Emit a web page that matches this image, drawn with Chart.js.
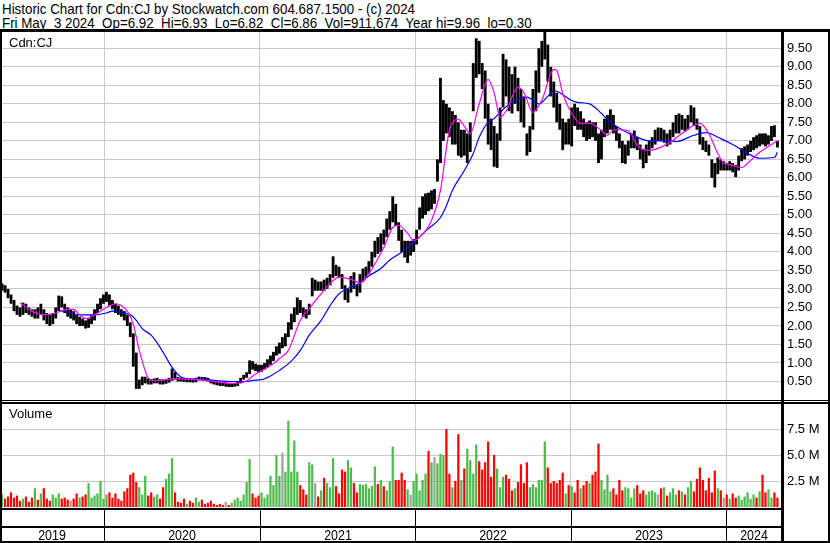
<!DOCTYPE html>
<html>
<head>
<meta charset="utf-8">
<title>Historic Chart Cdn:CJ</title>
<script src="https://cdn.jsdelivr.net/npm/chart.js"></script>
<style>
  body { margin: 0; background: #fff; }
  #page { position: relative; width: 830px; height: 543px; overflow: hidden; font-family: "Liberation Sans", Arial, sans-serif; color: #000; }
  .hdr { position: absolute; left: 2px; font-size: 15px; line-height: 15px; white-space: pre; transform-origin: 0 0; }
  .ln { position: absolute; background: #000; }
  .lbl { position: absolute; font-size: 13px; line-height: 13px; white-space: pre; }
  .yr { position: absolute; top: 528px; width: 60px; font-size: 15px; line-height: 13px; text-align: center; transform: scaleX(0.83); }
  canvas { position: absolute; left: 0; }
</style>
</head>
<body>
<div id="page">
  <div class="hdr" id="h1" style="top:1px">Historic Chart for Cdn:CJ by Stockwatch.com 604.687.1500 - (c) 2024</div>
  <div class="hdr" id="h2" style="top:15px">Fri May  3 2024  Op=6.92  Hi=6.93  Lo=6.82  Cl=6.86  Vol=911,674  Year hi=9.96  lo=0.30</div>
  <canvas id="price" width="830" height="368" style="top:32px"></canvas>
  <canvas id="vol" width="830" height="104" style="top:403px"></canvas>
  <div class="lbl" style="left:9px; top:36px">Cdn:CJ</div>
  <div class="lbl" style="left:9px; top:407px">Volume</div>
  <div class="ln" style="left:0; top:29px; width:830px; height:3px"></div>
  <div class="ln" style="left:0; top:29px; width:2px; height:514px"></div>
  <div class="ln" style="left:828px; top:29px; width:2px; height:514px"></div>
  <div class="ln" style="left:781px; top:32px; width:3px; height:511px"></div>
  <div class="ln" style="left:0; top:400px; width:830px; height:1px"></div>
  <div class="ln" style="left:0; top:402px; width:830px; height:2px"></div>
  <div class="ln" style="left:0; top:508px; width:783px; height:2px"></div>
  <div class="ln" style="left:0; top:526px; width:783px; height:2px"></div>
  <div class="ln" style="left:0; top:541px; width:830px; height:2px"></div>
  <div id="band"></div>
</div>
<script>
// weekly bars, first week starts early May 2019
const startYear = 2019.345;
const weekLen = 7 / 365.25;

const yearTicks = [2020, 2021, 2022, 2023, 2024];
const yearLabels = ['2019', '2020', '2021', '2022', '2023', '2024'];
const priceTicks = [0.5, 1.0, 1.5, 2.0, 2.5, 3.0, 3.5, 4.0, 4.5, 5.0, 5.5, 6.0, 6.5, 7.0, 7.5, 8.0, 8.5, 9.0, 9.5];
const volTicks = [2.5, 5.0, 7.5];

const lo = [
  2.95, 2.9, 2.75, 2.6, 2.4, 2.3, 2.25, 2.3, 2.35, 2.3,
  2.25, 2.2, 2.2, 2.3, 2.15, 2.05, 2.0, 2.05, 2.2, 2.4,
  2.5, 2.35, 2.25, 2.2, 2.15, 2.05, 2.0, 2.0, 1.93, 1.95,
  2.05, 2.15, 2.35, 2.45, 2.6, 2.65, 2.55, 2.45, 2.35, 2.3,
  2.25, 2.15, 2.0, 1.7, 0.9, 0.3, 0.3, 0.4, 0.45, 0.42,
  0.42, 0.45, 0.45, 0.42, 0.42, 0.44, 0.47, 0.52, 0.55, 0.5,
  0.5, 0.49, 0.48, 0.48, 0.47, 0.48, 0.53, 0.53, 0.52, 0.5,
  0.45, 0.42, 0.4, 0.38, 0.38, 0.36, 0.35, 0.35, 0.36, 0.38,
  0.45, 0.55, 0.6, 0.7, 0.82, 0.78, 0.75, 0.76, 0.82, 0.88,
  0.95, 1.05, 1.2, 1.25, 1.4, 1.45, 1.7, 1.9, 2.1, 2.3,
  2.35, 2.25, 2.2, 2.3, 2.8, 2.95, 2.95, 2.95, 2.95, 3.0,
  3.1, 3.3, 3.35, 3.3, 3.0, 2.7, 2.63, 2.9, 3.0, 2.8,
  2.9, 3.2, 3.3, 3.4, 3.6, 3.85, 3.95, 4.0, 4.2, 4.4,
  4.6, 4.8, 4.7, 4.3, 4.0, 3.85, 3.7, 3.9, 4.0, 4.2,
  4.6, 4.9, 5.0, 5.1, 5.15, 5.3, 5.9, 6.4, 7.0, 7.2,
  7.1, 6.9, 6.9, 6.6, 6.55, 6.6, 6.4, 6.7, 7.8, 8.7,
  8.8, 8.4, 7.6, 6.9, 6.75, 6.3, 6.27, 7.0, 7.9, 8.2,
  7.8, 7.74, 8.0, 7.8, 7.5, 7.36, 6.6, 6.7, 7.3, 7.8,
  8.3, 9.0, 9.2, 8.6, 8.2, 7.9, 7.5, 7.3, 6.75, 6.9,
  6.9, 6.85, 7.4, 7.3, 7.3, 7.1, 7.0, 7.05, 7.1, 7.0,
  6.4, 6.5, 7.1, 7.2, 7.3, 7.2, 7.0, 6.8, 6.4, 6.38,
  6.6, 6.8, 6.8, 6.75, 6.5, 6.26, 6.4, 6.6, 6.8, 6.9,
  7.0, 7.0, 6.95, 6.85, 6.9, 7.1, 7.2, 7.2, 7.3, 7.25,
  7.3, 7.5, 7.4, 7.3, 6.9, 6.75, 6.7, 6.6, 6.0, 5.74,
  6.1, 6.2, 6.2, 6.2, 6.2, 6.15, 6.02, 6.2, 6.45, 6.5,
  6.6, 6.7, 6.75, 6.8, 6.85, 6.9, 6.85, 6.9, 7.0, 7.1,
  6.82
];
const hi = [
  3.15, 3.1, 3.0, 2.85, 2.7, 2.55, 2.5, 2.63, 2.6, 2.5,
  2.45, 2.45, 2.5, 2.6, 2.45, 2.35, 2.3, 2.35, 2.5, 2.82,
  2.8, 2.6, 2.5, 2.45, 2.4, 2.3, 2.25, 2.2, 2.15, 2.2,
  2.3, 2.45, 2.6, 2.75, 2.85, 2.92, 2.85, 2.7, 2.6, 2.55,
  2.45, 2.4, 2.3, 2.1, 1.8, 1.28, 0.55, 0.63, 0.63, 0.58,
  0.56, 0.58, 0.6, 0.56, 0.55, 0.57, 0.6, 0.85, 0.75, 0.62,
  0.6, 0.58, 0.58, 0.58, 0.57, 0.6, 0.63, 0.62, 0.62, 0.6,
  0.55, 0.52, 0.5, 0.48, 0.47, 0.46, 0.44, 0.45, 0.46, 0.5,
  0.6, 0.68, 0.75, 1.07, 1.05, 0.98, 0.95, 0.95, 1.0, 1.1,
  1.2, 1.3, 1.45, 1.55, 1.7, 1.8, 2.1, 2.33, 2.5, 2.77,
  2.7, 2.5, 2.45, 2.6, 3.3, 3.25, 3.2, 3.2, 3.25, 3.3,
  3.4, 3.88, 3.65, 3.6, 3.4, 3.1, 3.0, 3.35, 3.45, 3.1,
  3.4, 3.55, 3.6, 3.75, 4.0, 4.3, 4.4, 4.5, 4.6, 4.9,
  5.1, 5.5, 5.3, 4.8, 4.6, 4.3, 4.3, 4.3, 4.35, 4.6,
  5.2, 5.5, 5.58, 5.6, 5.66, 5.7, 6.5, 8.7, 8.1, 8.0,
  7.9, 7.8, 7.7, 7.5, 7.3, 7.3, 7.2, 7.5, 9.1, 9.77,
  9.7, 9.1, 8.9, 8.0, 7.6, 7.4, 7.2, 7.9, 9.35, 9.2,
  9.0, 8.8, 9.0, 8.7, 8.4, 8.2, 7.2, 7.4, 8.4, 8.9,
  9.5, 9.7, 9.96, 9.6, 9.0, 8.6, 8.3, 8.0, 7.6, 7.5,
  7.6, 7.9, 8.0, 7.9, 7.8, 7.6, 7.5, 7.55, 7.5, 7.5,
  7.2, 7.3, 7.6, 7.7, 7.85, 7.7, 7.4, 7.2, 7.0, 6.9,
  7.0, 7.2, 7.28, 7.1, 6.9, 6.75, 6.9, 7.0, 7.1, 7.3,
  7.36, 7.35, 7.3, 7.2, 7.3, 7.5, 7.7, 7.74, 7.7, 7.6,
  7.7, 7.96, 7.9, 7.6, 7.4, 7.1, 7.0, 6.9, 6.5, 6.4,
  6.55, 6.5, 6.45, 6.4, 6.45, 6.4, 6.35, 6.6, 6.8, 6.85,
  6.9, 7.0, 7.1, 7.15, 7.2, 7.2, 7.2, 7.15, 7.4, 7.42,
  7.0
];
const close = [
  3.05, 2.95, 2.8, 2.65, 2.45, 2.4, 2.3, 2.55, 2.45, 2.35,
  2.3, 2.35, 2.3, 2.4, 2.2, 2.15, 2.1, 2.25, 2.4, 2.7,
  2.6, 2.4, 2.3, 2.3, 2.2, 2.1, 2.15, 2.05, 2.0, 2.1,
  2.2, 2.4, 2.5, 2.7, 2.75, 2.85, 2.6, 2.55, 2.4, 2.35,
  2.3, 2.2, 2.05, 1.8, 1.0, 0.4, 0.45, 0.5, 0.55, 0.5,
  0.48, 0.52, 0.55, 0.48, 0.46, 0.52, 0.55, 0.7, 0.6, 0.55,
  0.54, 0.52, 0.53, 0.52, 0.5, 0.55, 0.58, 0.57, 0.56, 0.52,
  0.48, 0.45, 0.44, 0.42, 0.4, 0.4, 0.38, 0.4, 0.42, 0.46,
  0.55, 0.62, 0.7, 0.95, 0.9, 0.85, 0.82, 0.88, 0.95, 1.0,
  1.1, 1.25, 1.3, 1.5, 1.5, 1.75, 2.0, 2.2, 2.4, 2.6,
  2.45, 2.3, 2.25, 2.5, 3.1, 3.1, 3.0, 3.1, 3.05, 3.2,
  3.3, 3.6, 3.45, 3.4, 3.1, 2.85, 2.9, 3.2, 3.1, 2.9,
  3.3, 3.4, 3.5, 3.7, 3.9, 4.2, 4.1, 4.4, 4.35, 4.8,
  4.9, 5.2, 4.9, 4.4, 4.2, 4.0, 4.1, 4.1, 4.25, 4.5,
  5.1, 5.3, 5.4, 5.3, 5.5, 5.5, 6.4, 7.5, 7.6, 7.5,
  7.4, 7.6, 7.2, 6.9, 7.0, 6.8, 6.9, 7.3, 8.8, 9.3,
  9.0, 8.6, 7.8, 7.2, 7.0, 6.6, 7.0, 7.7, 8.9, 8.5,
  8.3, 8.2, 8.5, 8.0, 7.9, 7.6, 6.9, 7.2, 8.2, 8.5,
  9.1, 9.4, 9.6, 8.8, 8.4, 8.1, 7.7, 7.5, 7.0, 7.3,
  7.2, 7.7, 7.6, 7.4, 7.5, 7.3, 7.2, 7.3, 7.2, 7.1,
  6.7, 7.1, 7.4, 7.5, 7.6, 7.3, 7.1, 6.9, 6.6, 6.7,
  6.9, 7.0, 7.1, 6.9, 6.6, 6.4, 6.7, 6.9, 7.0, 7.2,
  7.2, 7.1, 7.2, 7.0, 7.2, 7.4, 7.5, 7.4, 7.6, 7.4,
  7.5, 7.8, 7.5, 7.4, 7.0, 6.9, 6.8, 6.7, 6.2, 6.1,
  6.4, 6.3, 6.3, 6.25, 6.35, 6.3, 6.1, 6.5, 6.6, 6.7,
  6.8, 6.9, 7.0, 6.95, 7.1, 7.05, 7.0, 7.1, 7.3, 7.2,
  6.86
];
// volume in millions
const volume = [
  1.2, 0.8, 1.0, 1.4, 0.9, 1.1, 0.6, 0.8, 1.0, 0.5,
  0.9, 1.8, 0.7, 1.3, 1.8, 0.8, 0.6, 1.2, 0.9, 1.3,
  0.8, 0.9, 0.7, 0.6, 0.8, 1.3, 0.9, 1.0, 1.2, 2.3,
  0.9, 1.1, 1.3, 2.5, 0.8, 1.2, 1.4, 0.9, 1.3, 0.8,
  0.6, 1.5, 1.8, 3.1, 3.3, 2.4, 1.9, 1.2, 3.0, 1.1,
  1.4, 1.0, 1.2, 0.8, 1.9, 2.7, 3.2, 4.7, 1.4, 0.5,
  0.4, 0.8, 0.3, 0.6, 0.4, 0.9, 0.5, 0.7, 0.3, 0.4,
  0.6, 0.3, 0.2, 0.3, 0.2, 0.5, 0.2, 0.4, 0.7, 0.9,
  0.6, 1.2, 2.4, 4.6, 1.3, 0.9, 1.1, 1.4, 0.9, 1.2,
  3.0, 2.1, 5.0, 3.0, 5.2, 3.4, 8.3, 3.4, 6.4, 3.4,
  2.1, 1.7, 1.2, 4.3, 4.1, 2.3, 1.0, 1.6, 2.8, 2.3,
  1.9, 4.7, 2.0, 1.3, 3.6, 3.4, 4.5, 3.8, 2.3, 1.4,
  2.2, 2.1, 2.2, 1.8, 2.0, 3.9, 2.2, 2.6, 2.0, 1.6,
  2.5, 5.8, 2.6, 2.6, 3.3, 2.6, 1.7, 1.2, 2.5, 3.2,
  1.6, 2.6, 3.2, 5.4, 4.3, 4.8, 4.2, 5.1, 5.0, 7.5,
  3.2, 1.9, 2.5, 7.0, 2.6, 3.7, 5.6, 4.5, 3.2, 6.0,
  4.4, 3.6, 4.3, 6.3, 2.9, 5.0, 3.7, 1.9, 2.9, 3.1,
  2.7, 1.6, 1.8, 2.4, 4.1, 2.3, 4.3, 1.9, 2.2, 1.9,
  2.6, 2.6, 6.3, 3.8, 2.3, 2.5, 2.3, 2.6, 3.3, 1.3,
  2.1, 2.0, 1.4, 2.6, 1.8, 2.1, 2.5, 2.3, 3.1, 3.4,
  6.1, 2.6, 1.7, 3.1, 1.5, 1.8, 1.2, 2.6, 1.6, 1.9,
  1.8, 0.9, 1.8, 2.1, 1.3, 1.6, 1.2, 1.5, 1.6, 1.4,
  1.2, 1.8, 1.9, 1.1, 1.4, 1.8, 1.2, 1.6, 1.5, 1.2,
  1.9, 2.5, 1.5, 2.7, 3.8, 2.6, 1.6, 2.8, 1.4, 3.5,
  1.8, 1.6, 0.9, 1.2, 0.8, 1.3, 0.9, 1.1, 0.7, 1.0,
  1.4, 0.8, 1.2, 0.9, 1.5, 3.1, 1.4, 1.7, 0.9, 1.4,
  0.9
];
// moving averages: [week, value]
const maFast = [
  [6, 2.63], [10, 2.4], [14, 2.3], [18, 2.35], [22, 2.45], [24, 2.45], [26, 2.3], [28, 2.2],
  [31, 2.3], [35, 2.5], [38, 2.6], [40, 2.55], [42, 2.4], [44, 2.05], [46, 1.34], [49, 0.6],
  [51, 0.52], [55, 0.55], [58, 0.58], [61, 0.57], [66, 0.55], [71, 0.5], [77, 0.45], [81, 0.48],
  [85, 0.7], [89, 0.88], [91, 0.98], [93, 1.12], [96, 1.34], [100, 2.15], [103, 2.47], [107, 2.87],
  [110, 3.15], [113, 3.31], [118, 3.23], [120, 3.15], [123, 3.42], [128, 4.12], [131, 4.66], [133, 4.72],
  [136, 4.5], [138, 4.31], [140, 4.4], [144, 4.85], [147, 5.66], [150, 7.28], [153, 7.58], [155, 7.4],
  [157, 7.2], [160, 8.0], [163, 8.66], [165, 8.3], [167, 7.64], [169, 7.8], [173, 8.45], [175, 8.3],
  [178, 7.77], [181, 8.1], [185, 8.93], [186, 8.9], [188, 8.28], [191, 7.74], [194, 7.47], [197, 7.47],
  [201, 7.28], [203, 7.15], [205, 7.3], [210, 7.28], [213, 6.88], [217, 6.74], [221, 6.83], [224, 6.96],
  [228, 7.2], [234, 7.47], [237, 7.2], [240, 6.66], [242, 6.4], [244, 6.36], [248, 6.28], [251, 6.47],
  [254, 6.69], [258, 6.9], [260, 7.0]
];
const maSlow = [
  [19, 2.42], [23, 2.35], [26, 2.3], [31, 2.3], [35, 2.35], [37, 2.4], [40, 2.35], [43, 2.3],
  [45, 2.15], [47, 1.93], [50, 1.75], [53, 1.42], [55, 1.15], [57, 0.88], [60, 0.62], [63, 0.57],
  [66, 0.56], [71, 0.53], [77, 0.5], [82, 0.5], [84, 0.53], [87, 0.55], [90, 0.65], [93, 0.8],
  [97, 1.05], [100, 1.34], [103, 1.75], [107, 2.15], [110, 2.55], [113, 2.87], [117, 3.05], [120, 3.15],
  [123, 3.35], [127, 3.55], [130, 3.78], [134, 3.99], [138, 4.26], [143, 4.63], [147, 4.93], [149, 5.25],
  [151, 5.66], [155, 6.2], [158, 6.66], [160, 7.1], [163, 7.5], [165, 7.6], [167, 7.77], [171, 8.04],
  [176, 8.18], [178, 8.1], [180, 8.0], [183, 8.2], [185, 8.36], [187, 8.3], [191, 8.09], [193, 8.04],
  [197, 8.0], [201, 7.74], [204, 7.5], [207, 7.34], [213, 7.1], [217, 7.0], [223, 7.0], [226, 6.98],
  [232, 7.15], [236, 7.22], [241, 7.06], [245, 6.9], [250, 6.66], [254, 6.53], [259, 6.55], [260, 6.69]
];

const gridCol = '#c8c8c8';
const xMin = 2019.3316, xMax = 2024.3573;
const tOf = i => startYear + i * weekLen;

function xAxis() {
  return {
    type: 'linear', min: xMin, max: xMax, offset: false,
    grid: { color: gridCol, drawTicks: false, offset: false },
    border: { display: false },
    ticks: { display: false },
    afterBuildTicks: s => { s.ticks = yearTicks.map(v => ({ value: v })); },
    afterFit: s => { s.height = 0; }
  };
}
function yAxis(min, max, ticks, fmt) {
  return {
    position: 'right', min: min, max: max,
    grid: { color: gridCol, drawTicks: false },
    border: { display: false },
    ticks: { color: '#000', autoSkip: false, padding: 5, font: { family: 'Liberation Sans', size: 13 }, callback: fmt },
    afterBuildTicks: s => { s.ticks = ticks.map(v => ({ value: v })); },
    afterFit: s => { s.width = 48; s.paddingTop = 0; s.paddingBottom = 0; }
  };
}
const common = {
  responsive: false, animation: false, devicePixelRatio: 1,
  layout: { padding: 0 },
  plugins: { legend: { display: false }, tooltip: { enabled: false } }
};

const priceChart = new Chart(document.getElementById('price'), {
  type: 'bar',
  data: {
    datasets: [
      { type: 'line', data: maFast.map(p => ({ x: tOf(p[0]), y: p[1] })), borderColor: '#ff00ff', borderWidth: 1.2, pointRadius: 0, cubicInterpolationMode: 'monotone', order: 0 },
      { type: 'line', data: maSlow.map(p => ({ x: tOf(p[0]), y: p[1] })), borderColor: '#0000ff', borderWidth: 1.2, pointRadius: 0, cubicInterpolationMode: 'monotone', order: 1 },
      { data: hi.map((h, i) => ({ x: tOf(i), y: [lo[i], h] })), backgroundColor: '#000', barPercentage: 0.95, categoryPercentage: 1, order: 2 }
    ]
  },
  options: Object.assign({}, common, {
    scales: { x: xAxis(), y: yAxis(0, 9.94, priceTicks, v => v.toFixed(2)) }
  })
});

const volColors = volume.map((v, i) => {
  if (i === 0 || close[i] > close[i - 1]) return '#4cbb4c';
  if (close[i] < close[i - 1]) return '#ff0000';
  return '#a0a0a0';
});

const volChart = new Chart(document.getElementById('vol'), {
  type: 'bar',
  data: {
    datasets: [
      { data: volume.map((v, i) => ({ x: tOf(i), y: v })), backgroundColor: volColors, barPercentage: 0.75, categoryPercentage: 1 }
    ]
  },
  options: Object.assign({}, common, {
    scales: { x: xAxis(), y: yAxis(0, 10.0, volTicks, v => v.toFixed(1) + ' M') }
  })
});

// year band under the volume panel
const band = document.getElementById('band');
const xs = volChart.scales.x;
const edges = [xs.left].concat(yearTicks.map(v => Math.round(xs.getPixelForValue(v))), [xs.right]);
yearTicks.forEach((v, k) => {
  const d = document.createElement('div');
  d.className = 'ln';
  d.style.cssText = 'left:' + edges[k + 1] + 'px; top:510px; width:1px; height:31px';
  band.appendChild(d);
});
yearLabels.forEach((lab, k) => {
  const d = document.createElement('div');
  d.className = 'yr';
  d.textContent = lab;
  d.style.left = ((edges[k] + edges[k + 1]) / 2 - 30) + 'px';
  band.appendChild(d);
});

// the header font is tall and narrow: squeeze it to the reference width
const h1 = document.getElementById('h1'), h2 = document.getElementById('h2');
const sx = 413 / h1.getBoundingClientRect().width;
h1.style.transform = 'scaleX(' + sx + ')';
h2.style.transform = 'scaleX(' + sx + ')';
</script>
</body>
</html>
